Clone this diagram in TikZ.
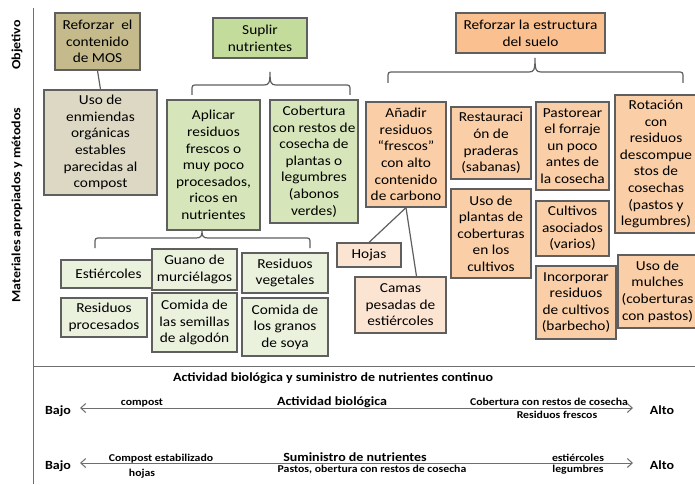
\documentclass[tikz,border=0pt]{standalone}
\usepackage{fontspec}
\setmainfont{Carlito}[FakeStretch=1.12]
\usetikzlibrary{arrows.meta}
\definecolor{mosD}{RGB}{196,186,140}
\definecolor{mosL}{RGB}{221,216,196}
\definecolor{grnD}{RGB}{196,220,155}
\definecolor{grnM}{RGB}{214,230,186}
\definecolor{grnL}{RGB}{234,241,221}
\definecolor{orD}{RGB}{250,192,143}
\definecolor{orM}{RGB}{250,206,166}
\definecolor{orL}{RGB}{252,228,210}
\definecolor{bord}{RGB}{95,95,95}
\definecolor{axl}{RGB}{110,110,110}
\newcommand\bx[7]{\node[#6, minimum width={(#4-#2)*1pt}, minimum height={(#5-#3)*1pt}] (#1) at ({(#2+#4)/2},{(#3+#5)/2}) {#7};}
\newcommand\brc[6]{% x1 x2 xc yend yline ytip
  \draw[bracel] (#1,#4) -- (#1,#5+6) .. controls (#1,#5) .. (#1+6,#5) -- (#3-6,#5)
    .. controls (#3-1,#5) and (#3,#5-2) .. (#3,#6)
    .. controls (#3,#5-2) and (#3+1,#5) .. (#3+6,#5) -- (#2-6,#5)
    .. controls (#2,#5) .. (#2,#5+6) -- (#2,#4);}
\begin{document}
\begin{tikzpicture}[x=1pt,y=-1pt,
  boxs/.style={draw=bord, line width=1.3pt, inner sep=1pt, align=center,
    font=\fontsize{13.7}{16.6}\selectfont},
  bracel/.style={draw=bord, line width=1.2pt},
  conn/.style={draw=bord, line width=1.2pt},
  axis/.style={draw=axl, line width=1pt},
  arr/.style={draw=axl, line width=1pt, {Straight Barb[length=5pt,width=9pt]}-{Straight Barb[length=5pt,width=9pt]}},
  lab/.style={font=\bfseries\fontsize{10.5}{12}\selectfont, inner sep=0pt, anchor=base},
  big/.style={font=\bfseries\fontsize{12.5}{14}\selectfont, inner sep=0pt},
  endl/.style={font=\bfseries\fontsize{12.5}{14}\selectfont, inner sep=0pt},
]
\useasboundingbox (0,0) rectangle (695,484);
\fill[white] (0,0) rectangle (695,484);
% axes
\draw[axis] (33,8) -- (33,484);
\draw[axis] (33,366) -- (695,366);
\node[big, rotate=90] (lobj) at (17,45) {Objetivo};
\node[big, rotate=90] (lmat) at (17,205) {Materiales apropiados y métodos};
% MOS
\bx{mos}{55}{13}{140}{70}{boxs, fill=mosD}{Reforzar\ \ el\\contenido\\de MOS}
\bx{uso}{44}{90}{157}{195}{boxs, fill=mosL}{Uso de\\enmiendas\\orgánicas\\estables\\parecidas al\\compost}
\draw[conn] (mos.south) -- (uso.north);
% green
\bx{sup}{213}{18}{307}{58}{boxs, fill=grnD}{Suplir\\nutrientes}
\brc{192}{350}{270}{95}{85}{72}
\bx{apl}{167}{100}{260}{230}{boxs, fill=grnM}{Aplicar\\residuos\\frescos o\\muy poco\\procesados,\\ricos en\\nutrientes}
\bx{cob}{270}{100}{358}{223}{boxs, fill=grnM}{Cobertura\\con restos de\\cosecha de\\plantas o\\legumbres\\(abonos\\verdes)}
\brc{95}{310}{202}{248}{238}{231}
\bx{est}{61}{260}{156}{288}{boxs, fill=grnL}{Estiércoles}
\bx{gua}{152}{249}{237}{290}{boxs, fill=grnL}{Guano de\\murciélagos}
\bx{rve}{242}{253}{328}{293}{boxs, fill=grnL}{Residuos\\vegetales}
\bx{rpr}{61}{298}{147}{337}{boxs, fill=grnL}{Residuos\\procesados}
\bx{alg}{152}{293}{237}{352}{boxs, fill=grnL}{Comida de\\las semillas\\de algodón}
\bx{soy}{242}{298}{328}{356}{boxs, fill=grnL}{Comida de\\los granos\\de soya}
% orange
\bx{ref}{456}{13}{605}{53}{boxs, fill=orD}{Reforzar la estructura\\del suelo}
\brc{388}{683}{535}{83}{72}{58}
\bx{ana}{366}{102}{446}{207}{boxs, fill=orM}{Añadir\\residuos\\“frescos”\\con alto\\contenido\\de carbono}
\bx{res}{451}{107}{531}{179}{boxs, fill=orM}{Restauraci\\ón de\\praderas\\(sabanas)}
\bx{pas}{536}{102}{609}{190}{boxs, fill=orM}{Pastorear\\el forraje\\un poco\\antes de\\la cosecha}
\bx{rot}{615}{95}{697}{233}{boxs, fill=orM}{Rotación\\con\\residuos\\descompue\\stos de\\cosechas\\(pastos y\\legumbres)}
\bx{pla}{451}{189}{531}{278}{boxs, fill=orM}{Uso de\\plantas de\\coberturas\\en los\\cultivos}
\bx{aso}{536}{201}{609}{256}{boxs, fill=orM}{Cultivos\\asociados\\(varios)}
\bx{inc}{536}{266}{616}{339}{boxs, fill=orM}{Incorporar\\residuos\\de cultivos\\(barbecho)}
\bx{mul}{618}{255}{697}{328}{boxs, fill=orM}{Uso de\\mulches\\(coberturas\\con pastos)}
\bx{hoj}{337}{243}{401}{267}{boxs, fill=orL}{Hojas}
\bx{cam}{355}{277}{446}{333}{boxs, fill=orL}{Camas\\pesadas de\\estiércoles}
\draw[conn] (ana.south) -- (hoj.north);
\draw[conn] (ana.south) -- ([xshift=16pt]cam.north);
% bottom
\node[big, anchor=base] (tit) at (333,381) {Actividad biológica y suministro de nutrientes continuo};
\coordinate (a1l) at (80,408);
\coordinate (a1r) at (633,408);
\coordinate (a2l) at (80,463);
\coordinate (a2r) at (633,463);
\draw[arr] (a1l) -- (a1r);
\draw[arr] (a2l) -- (a2r);
\node[endl] (b1) at (58,411) {Bajo};
\node[endl] (h1) at (662,410) {Alto};
\node[endl] (b2) at (58,466) {Bajo};
\node[endl] (h2) at (662,465) {Alto};
\node[lab] (l1) at (142,405) {compost};
\node[big, anchor=base] (l2) at (332,405) {Actividad biológica};
\node[lab] (l3) at (549,405) {Cobertura con restos de cosecha};
\node[lab] (l4) at (557,418) {Residuos frescos};
\node[lab] (l5) at (161,461) {Compost estabilizado};
\node[lab] (l6) at (142,476) {hojas};
\node[big, anchor=base] (l7) at (355,461) {Suministro de nutrientes};
\node[lab] (l8) at (372,472) {Pastos, obertura con restos de cosecha};
\node[lab] (l9) at (578,461) {estiércoles};
\node[lab] (l10) at (578,472) {legumbres};
\end{tikzpicture}
\end{document}
